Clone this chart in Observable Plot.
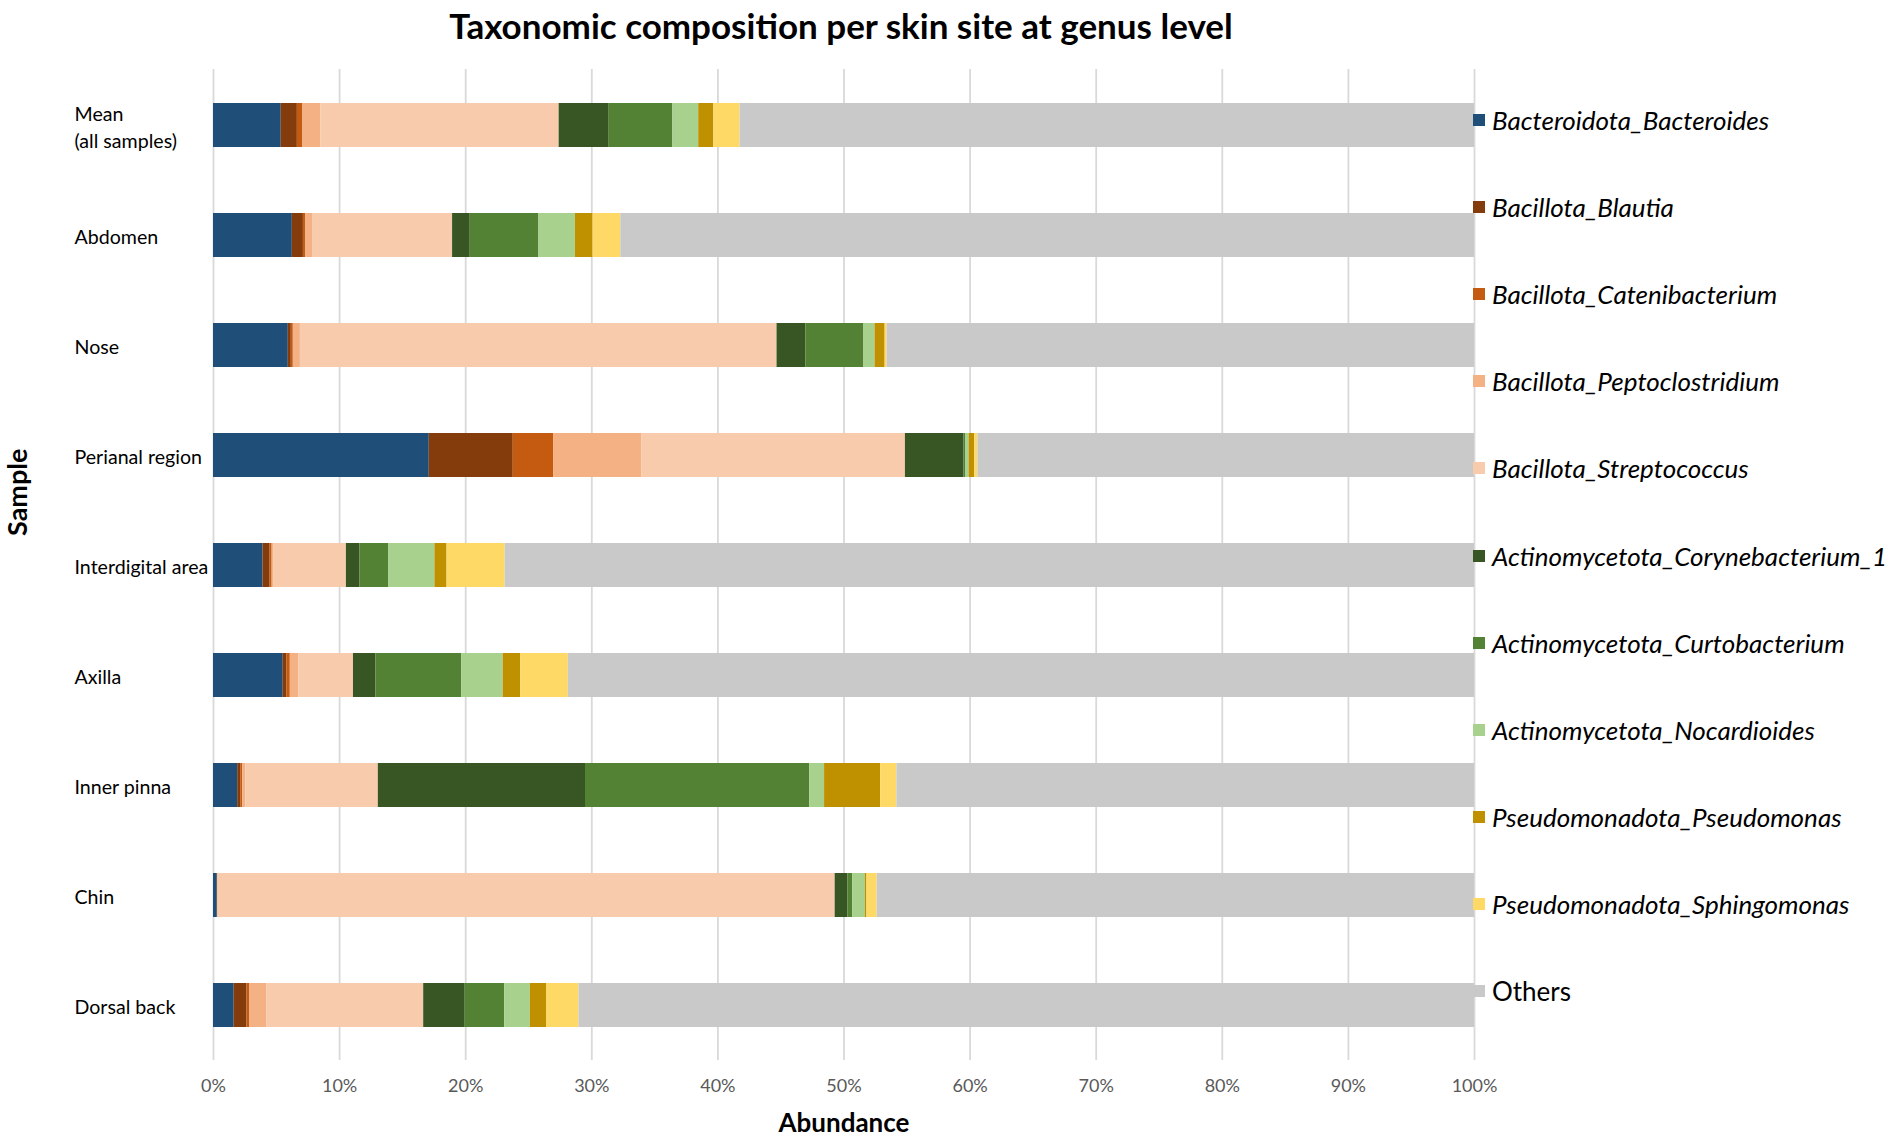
<!DOCTYPE html>
<html>
<head>
<meta charset="utf-8">
<script src="https://cdn.jsdelivr.net/npm/d3@7"></script>
<script src="https://cdn.jsdelivr.net/npm/@observablehq/plot@0.6"></script>
<style>
  html, body { margin: 0; padding: 0; background: #fff; }
  #wrap { position: relative; width: 1902px; height: 1139px; font-family: Lato, "Open Sans", sans-serif; }
  #title { position: absolute; left: 0; width: 1682px; top: 4px; text-align: center; font-weight: bold; font-size: 35px; color: #000; }
  #legend { position: absolute; left: 1473px; top: 76px; }
  .item { height: 87.2px; display: flex; align-items: center; font-size: 26px; font-style: italic; color: #000; white-space: nowrap; }
  .item.plain { font-style: normal; }
  .sw { width: 12px; height: 12px; margin-right: 7px; flex: none; }
  #chart { position: absolute; left: 0; top: 0; }
</style>
</head>
<body>
<div id="wrap">
  <div id="chart"></div>
  <div id="title">Taxonomic composition per skin site at genus level</div>
  <div id="legend"></div>
</div>
<script>
const samples = ["Mean\n(all samples)", "Abdomen", "Nose", "Perianal region", "Interdigital area", "Axilla", "Inner pinna", "Chin", "Dorsal back"];
const taxa = [
  "Bacteroidota_Bacteroides", "Bacillota_Blautia", "Bacillota_Catenibacterium",
  "Bacillota_Peptoclostridium", "Bacillota_Streptococcus", "Actinomycetota_Corynebacterium_1",
  "Actinomycetota_Curtobacterium", "Actinomycetota_Nocardioides", "Pseudomonadota_Pseudomonas",
  "Pseudomonadota_Sphingomonas", "Others"
];
const colors = ["#1f4e79", "#843c0c", "#c55a11", "#f4b183", "#f8cbad", "#375623", "#548235", "#a9d18e", "#bf9000", "#ffd966", "#c9c9c9"];
const xTicks = [0, 10, 20, 30, 40, 50, 60, 70, 80, 90, 100];

// percentages per sample (same order as samples)
const bacteroides      = [5.37, 6.25, 5.93, 17.11, 3.93, 5.53, 1.92, 0.30, 1.64];
const blautia          = [1.28, 0.88, 0.24, 6.66, 0.56, 0.28, 0.24, 0.02, 1.01];
const catenibacterium  = [0.44, 0.20, 0.16, 3.20, 0.16, 0.28, 0.16, 0.01, 0.24];
const peptoclostridium = [1.41, 0.57, 0.56, 6.98, 0.16, 0.68, 0.24, 0.05, 1.32];
const streptococcus    = [18.91, 11.06, 37.80, 20.92, 5.73, 4.33, 10.51, 48.92, 12.46];
const corynebacterium  = [3.97, 1.40, 2.28, 4.65, 1.08, 1.77, 16.43, 1.00, 3.29];
const curtobacterium   = [5.05, 5.45, 4.61, 0.15, 2.29, 6.81, 17.79, 0.40, 3.13];
const nocardioides     = [2.05, 2.89, 0.88, 0.25, 3.65, 3.29, 1.17, 1.00, 2.04];
const pseudomonas      = [1.20, 1.40, 0.80, 0.45, 0.96, 1.40, 4.45, 0.12, 1.28];
const sphingomonas     = [2.08, 2.20, 0.16, 0.25, 4.61, 3.77, 1.28, 0.81, 2.57];
const others           = [58.24, 67.70, 46.58, 39.38, 76.87, 71.86, 45.81, 47.37, 71.02];

const series = [bacteroides, blautia, catenibacterium, peptoclostridium, streptococcus,
  corynebacterium, curtobacterium, nocardioides, pseudomonas, sphingomonas, others];

const rows = [];
series.forEach((vals, ti) => vals.forEach((v, si) => rows.push({sample: samples[si], taxon: taxa[ti], value: v})));

const chart = Plot.plot({
  width: 1902,
  height: 1139,
  marginLeft: 213,
  marginRight: 428,
  marginTop: 69,
  marginBottom: 79,
  style: {fontFamily: "Lato, 'Open Sans', sans-serif", background: "#fff"},
  x: {domain: [0, 100]},
  y: {domain: samples, paddingInner: 0.6, paddingOuter: 0.3},
  color: {domain: taxa, range: colors},
  marks: [
    Plot.gridX(xTicks, {stroke: "#d9d9d9", strokeOpacity: 1, strokeWidth: 1.8}),
    Plot.barX(rows, Plot.stackX({x: "value", y: "sample", fill: "taxon", order: taxa})),
    Plot.axisX(xTicks, {tickSize: 0, tickPadding: 19, tickFormat: d => d + "%", fontSize: 18, color: "#595959",
      label: "Abundance", labelAnchor: "center", labelArrow: "none", labelOffset: 71}),
    Plot.axisY({tickSize: 0, tickPadding: 0, dx: -139, textAnchor: "start", fontSize: 19.6, lineHeight: 1.4, fill: "#000", label: null}),
    Plot.text(["Sample"], {frameAnchor: "left", dx: -195, dy: -29, rotate: -90, fontSize: 27, fontWeight: "bold", fill: "#000"})
  ]
});
chart.querySelectorAll("[aria-label='x-axis label'] text").forEach(t => { t.setAttribute("font-size", 26); t.setAttribute("font-weight", "bold"); t.setAttribute("fill", "#000"); });
document.getElementById("chart").appendChild(chart);

const legend = document.getElementById("legend");
taxa.forEach((t, i) => {
  const d = document.createElement("div");
  d.className = "item" + (t === "Others" ? " plain" : "");
  const s = document.createElement("span");
  s.className = "sw";
  s.style.background = colors[i];
  d.appendChild(s);
  d.appendChild(document.createTextNode(t));
  legend.appendChild(d);
});
</script>
</body>
</html>
